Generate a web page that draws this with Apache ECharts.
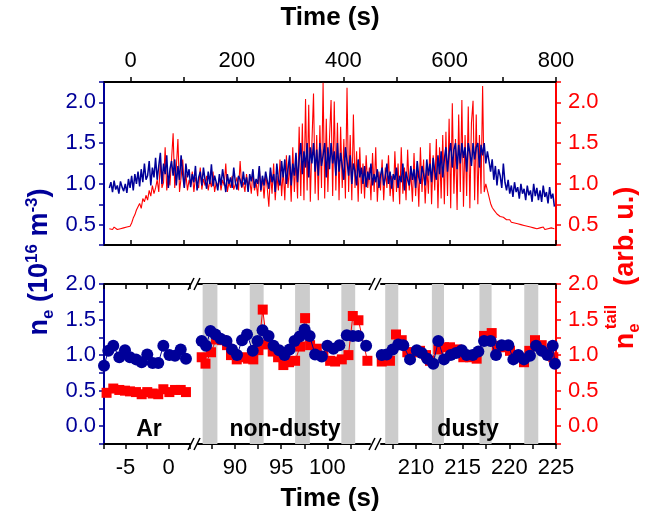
<!DOCTYPE html>
<html><head><meta charset="utf-8">
<script src="https://cdn.jsdelivr.net/npm/echarts@6/dist/echarts.min.js"></script>
<style>html,body{margin:0;padding:0;background:#fff}#c{width:651px;height:518px}</style>
</head><body><div id="c"></div>
<script>
// ---------- top panel: full time trace (sampled every 3 s starting at -40 s) ----------
const topStart = -40, topStep = 3;
const topNe = [
0.95,1.02,0.90,1.04,0.93,0.98,0.88,1.03,0.96,0.91,
1.00,0.89,1.06,0.95,1.10,0.92,1.12,1.00,1.15,0.97,
1.18,1.02,1.25,1.05,1.10,1.28,0.98,1.20,1.08,1.32,
1.05,1.22,1.38,1.00,1.25,1.12,1.35,0.95,1.18,1.28,
1.10,1.30,0.98,1.22,1.05,1.35,1.12,0.95,1.25,1.08,
1.18,0.96,1.12,1.02,1.22,0.92,1.08,1.15,0.98,1.20,
1.05,0.94,1.15,1.00,1.24,0.97,1.10,1.02,0.92,1.12,
0.98,1.18,1.04,0.90,1.12,1.00,1.08,0.95,1.20,1.02,
0.93,1.10,1.05,0.96,1.15,0.99,1.08,0.90,1.12,1.03,
1.18,0.95,1.06,1.00,1.22,0.92,1.10,0.98,1.15,1.04,
0.94,1.20,1.02,1.12,0.90,1.25,1.05,0.98,1.28,1.08,
1.30,1.00,1.18,1.35,0.98,1.25,1.10,1.38,1.02,1.30,
1.50,1.12,1.40,1.20,1.50,1.08,1.45,1.25,1.50,1.15,
1.42,1.10,1.50,1.22,1.35,1.50,1.08,1.45,1.18,1.50,
1.25,1.40,1.10,1.50,1.15,1.38,1.22,1.05,1.45,1.28,
1.10,1.35,1.00,1.25,1.15,0.98,1.30,1.08,1.20,1.00,
1.22,0.96,1.15,1.05,1.25,0.98,1.12,1.02,1.18,0.95,
1.10,1.20,0.98,1.08,1.25,1.00,1.15,0.94,1.12,1.05,
1.20,0.95,1.10,1.02,1.25,0.92,1.15,1.05,0.98,1.22,
1.05,1.18,0.95,1.28,1.08,1.00,1.22,1.12,0.98,1.30,
1.10,1.25,1.02,1.32,1.15,1.05,1.35,1.12,1.40,1.08,
1.30,1.45,1.15,1.38,1.50,1.20,1.42,1.50,1.18,1.48,
1.25,1.50,1.32,1.45,1.15,1.50,1.38,1.22,1.50,1.30,
1.45,1.50,1.20,1.48,1.35,1.50,1.25,1.40,1.28,1.15,
1.30,1.05,1.22,0.98,1.18,1.10,0.95,1.25,1.02,0.92,
1.05,0.88,0.98,0.84,1.02,0.90,0.96,0.82,1.00,0.88,
0.94,0.80,0.98,0.86,0.92,0.78,1.00,0.85,0.95,0.80,
0.92,0.78,0.98,0.84,0.90,0.76,0.96,0.82,0.88,0.72];
const topTail = [
0.45,0.46,0.44,0.47,0.45,0.44,0.46,0.45,0.43,0.46,
0.44,0.47,0.45,0.48,0.52,0.58,0.62,0.68,0.72,0.76,
0.70,0.82,0.78,0.86,0.80,0.92,0.85,0.98,0.88,0.95,
1.05,0.90,1.28,0.95,1.02,1.45,0.92,1.10,0.98,1.30,
1.62,0.95,1.20,1.55,0.90,1.08,1.30,0.96,1.12,0.92,
1.05,0.98,1.15,0.90,1.08,1.00,0.95,1.20,0.93,1.06,
0.98,1.10,0.92,1.04,0.96,1.15,0.90,1.02,0.97,1.08,
0.92,1.05,0.98,1.25,0.90,1.02,0.95,1.10,0.93,1.00,
1.08,0.92,1.28,0.95,1.02,0.90,1.12,0.96,1.05,0.88,
1.15,0.92,1.02,0.85,1.20,0.90,1.08,0.82,1.12,0.95,
0.72,1.15,0.88,1.25,0.80,1.10,0.92,1.30,0.85,1.18,
0.80,1.35,0.95,1.25,0.78,1.45,0.90,1.30,0.82,1.70,
0.85,1.74,0.80,2.04,0.92,1.97,0.78,1.50,2.11,0.88,
1.60,0.80,1.72,0.95,2.24,0.82,1.80,0.90,1.55,2.03,
0.85,2.01,0.92,1.75,0.80,1.70,0.95,1.55,0.82,2.18,
0.90,1.60,0.80,1.85,0.95,1.40,0.78,1.45,0.88,1.25,
0.82,1.35,0.95,1.20,0.80,1.38,0.90,1.45,0.78,1.15,
0.92,1.30,0.80,1.20,0.95,1.35,0.85,1.10,0.78,1.40,
0.90,1.25,0.75,1.45,0.88,1.20,0.80,1.42,0.92,1.15,
0.78,1.38,0.85,1.25,0.72,1.45,0.90,1.30,0.76,1.20,
0.88,1.50,0.75,1.35,0.92,1.55,0.70,1.45,0.82,1.60,
0.75,1.64,0.85,1.80,0.70,1.99,0.88,1.55,0.68,1.85,
0.90,2.03,0.72,1.60,0.85,1.95,0.70,1.75,2.02,0.80,
1.85,0.75,1.60,0.88,2.20,0.90,1.00,0.92,0.84,0.76,
0.71,0.68,0.66,0.63,0.61,0.60,0.58,0.59,0.57,0.56,
0.55,0.56,0.53,0.54,0.52,0.53,0.51,0.52,0.50,0.51,
0.49,0.50,0.48,0.49,0.47,0.48,0.46,0.47,0.45,0.47,
0.46,0.45,0.47,0.44,0.46,0.45,0.43,0.46,0.44,0.45];

// ---------- bottom panel: zoomed windows ----------
const arT    = [-7.50,-7.00,-6.42,-5.72,-5.06,-4.48,-3.78,-3.12,-2.47,-1.84,-1.19,-0.60,0.10,0.76,1.42,2.03];
const arNe   = [0.85,1.06,1.13,0.97,1.07,0.97,0.94,0.90,1.01,0.89,0.89,1.13,1.00,0.99,1.08,0.95];
const arTailT= [-7.20,-6.42,-5.72,-5.06,-4.48,-3.78,-3.12,-2.47,-1.84,-1.19,-0.60,0.10,0.76,1.42,2.03];
const arTail = [0.47,0.53,0.51,0.50,0.49,0.48,0.45,0.48,0.46,0.45,0.52,0.48,0.51,0.51,0.48];

const ndT    = [86.40,86.87,87.35,87.89,88.44,89.08,89.68,90.22,90.76,91.30,91.92,92.44,92.98,93.63,94.17,94.77,95.36,95.90,96.44,96.98,97.53,98.07,98.66,99.39,99.99,100.64,101.29,102.09,102.74,103.35,104.18];
const ndNe   = [1.20,1.13,1.34,1.29,1.23,1.20,1.08,1.00,1.21,1.29,1.06,1.20,1.35,1.27,1.13,1.07,1.00,1.08,1.20,1.26,1.36,1.27,1.01,0.98,1.13,1.09,1.14,1.28,1.27,1.27,1.13];
const ndTailT= [86.40,86.81,87.41,87.95,88.60,89.14,89.57,90.19,90.84,91.41,91.98,92.53,93.00,93.47,94.08,94.66,95.23,95.85,96.50,97.04,97.58,98.12,98.85,99.56,100.29,100.83,101.55,102.27,102.74,103.35,104.32];
const ndTail = [0.97,0.88,1.04,1.22,1.21,1.14,1.00,0.94,0.97,0.95,0.94,1.07,1.64,1.15,1.05,0.97,0.86,0.90,0.92,1.12,1.52,1.14,1.09,0.99,0.92,0.91,0.94,1.00,1.55,1.49,0.92];

const dT     = [206.33,206.86,207.50,208.10,208.64,209.36,210.08,210.61,211.21,211.85,212.39,213.00,213.72,214.29,214.90,215.43,216.08,216.68,217.29,218.00,218.57,219.18,219.89,220.43,220.96,221.57,222.21,222.86,223.47,224.07,224.65,224.89];
const dNe    = [1.00,1.01,1.08,1.15,1.14,0.94,1.07,1.03,0.95,0.88,1.20,0.94,1.00,1.03,1.07,1.00,1.00,1.05,1.20,1.20,1.00,1.14,1.14,0.94,1.00,0.94,0.99,1.13,1.06,1.00,1.13,0.88];
const dTailT = [206.33,207.21,207.86,208.47,209.07,209.71,210.43,211.07,211.50,212.39,213.00,213.64,214.36,215.07,215.79,216.50,217.29,218.11,218.65,219.35,220.07,220.79,221.57,222.14,222.75,223.47,224.18,224.71];
const dTail  = [0.91,0.92,1.29,1.21,1.04,1.04,1.06,1.00,0.92,1.08,1.11,1.11,1.08,0.97,0.97,0.95,1.27,1.31,1.13,1.11,1.06,0.97,0.90,1.06,1.21,1.14,1.04,0.97];

// shaded pulse intervals (s)
const ndBands = [[86.5,88.1],[91.6,93.1],[96.5,98.1],[101.5,103.0]];
const dBands  = [[206.7,208.1],[211.7,213.0],[216.8,218.1],[221.6,223.1]];

// tick values
const topXTicks  = [0,100,200,300,400,500,600,700,800];
const topXLabels = [0,200,400,600,800];
const arTicks  = [-7.5,-5,-2.5,0,2.5];      const arLabels = [-5,0];
const ndTicks  = [87.5,90,92.5,95,97.5,100,102.5]; const ndLabels = [90,95,100];
const dTicks   = [207.5,210,212.5,215,217.5,220,222.5,225]; const dLabels = [210,215,220,225];

// ---------- styling ----------
const BLUE = '#000099', RED = '#ff0000', FONT = 'Liberation Sans, Arial, sans-serif';
const zip = (a,b) => a.map((v,i)=>[v,b[i]]);
const topTimes = topNe.map((_,i)=>topStart + i*topStep);
const halfFmt = v => Math.abs(v*2 - Math.round(v*2)) < 1e-6 ? v.toFixed(1) : '';

const chart = echarts.init(document.getElementById('c'), null, {renderer:'canvas'});

const G = [
  {left:104, top:82, width:452, height:163},   // top
  {left:104, top:284, width:86, height:160},   // Ar
  {left:198, top:284, width:172, height:160},  // non-dusty
  {left:381, top:284, width:175, height:160}   // dusty
];
const blackLine = {show:true, onZero:false, lineStyle:{color:'#000', width:2}};
function xPair(gi, min, max, ticks, labels, topLabels){
  const lab = {show:true, customValues: labels, color:'#000', fontSize:22, fontFamily:FONT, margin: topLabels?10:13};
  return [
    {gridIndex:gi, type:'value', position: topLabels?'top':'bottom', min, max,
     axisLine:blackLine, splitLine:{show:false},
     axisTick:{show:true, customValues:ticks, inside:false, length:5, lineStyle:{color:'#000', width:1.5}},
     axisLabel: lab},
    {gridIndex:gi, type:'value', position: topLabels?'bottom':'top', min, max,
     axisLine:blackLine, splitLine:{show:false},
     axisTick:{show:true, customValues:ticks, inside:true, length:5, lineStyle:{color:'#000', width:1.5}},
     axisLabel:{show:false}}
  ];
}
const xAxes = [].concat(
  xPair(0, -50, 800, topXTicks, topXLabels, true),
  xPair(1, -7.5, 2.5, arTicks, arLabels, false),
  xPair(2, 86, 104.6, ndTicks, ndLabels, false),
  xPair(3, 206.25, 225, dTicks, dLabels, false)
);
function yAx(gi, pos, color, min, max, show){
  return {gridIndex:gi, type:'value', position:pos, min, max, interval:0.25, show:show,
    axisLine:{show:true, onZero:false, lineStyle:{color, width:2}}, splitLine:{show:false},
    axisTick:{show:true, inside:false, length:5, lineStyle:{color, width:1.5}},
    axisLabel:{show:true, formatter:halfFmt, color, fontSize:22, fontFamily:FONT, margin: pos==='left'?8:12}};
}
const yAxes = [
  yAx(0,'left',BLUE,0.25,2.25,true),     // 0 top left
  yAx(0,'right',RED,0.25,2.25,true),     // 1 top right
  yAx(1,'left',BLUE,-0.25,2.0,true),     // 2 Ar
  yAx(2,'left',BLUE,-0.25,2.0,false),    // 3 non-dusty
  yAx(3,'right',RED,-0.25,2.0,true)      // 4 dusty
];

function bands(arr){
  return {silent:true, itemStyle:{color:'#cccccc'}, data: arr.map(b=>[{xAxis:b[0]},{xAxis:b[1]}])};
}
function pts(name, xi, yi, t, v, color, sym, size, mark){
  const s = {name, type:'line', xAxisIndex:xi, yAxisIndex:yi, data:zip(t,v),
    symbol:sym, symbolSize:size, showSymbol:true, lineStyle:{color, width:1},
    itemStyle:{color, borderWidth:0}, animation:false, z: sym==='circle'?4:3};
  if (mark) s.markArea = mark;
  return s;
}
const series = [
  {name:'tail', type:'line', xAxisIndex:0, yAxisIndex:1, data:zip(topTimes, topTail), showSymbol:false,
   lineStyle:{color:RED, width:1.1}, itemStyle:{color:RED}, animation:false, z:2},
  {name:'ne', type:'line', xAxisIndex:0, yAxisIndex:0, data:zip(topTimes, topNe), showSymbol:false,
   lineStyle:{color:BLUE, width:1.5}, itemStyle:{color:BLUE}, animation:false, z:3},
  pts('arTail', 2, 2, arTailT, arTail, RED, 'rect', 10),
  pts('arNe',   2, 2, arT, arNe, BLUE, 'circle', 12),
  pts('ndTail', 4, 3, ndTailT, ndTail, RED, 'rect', 10, bands(ndBands)),
  pts('ndNe',   4, 3, ndT, ndNe, BLUE, 'circle', 12),
  pts('dTail',  6, 4, dTailT, dTail, RED, 'rect', 10, bands(dBands)),
  pts('dNe',    6, 4, dT, dNe, BLUE, 'circle', 12)
];

const bold = (t,x,y,size,color) => ({type:'text', x, y, z:100,
  style:{text:t, fill:color||'#000', font:'bold '+size+'px '+FONT, align:'center', verticalAlign:'middle'}});
function slash(x,y){ return {type:'line', z:100, shape:{x1:x-3, y1:y+6, x2:x+3, y2:y-6}, style:{stroke:'#000', lineWidth:1.5}}; }

const graphic = [
  bold('Time (s)', 330, 18, 26),
  bold('Time (s)', 330, 499, 26),
  bold('Ar', 149, 430, 23),
  bold('non-dusty', 285, 430, 23),
  bold('dusty', 468, 430, 23),
  slash(191,284), slash(197,284), slash(191,444), slash(197,444),
  slash(372,284), slash(378,284), slash(372,444), slash(378,444),
  {type:'text', x:40, y:262, z:100, rotation:Math.PI/2,
   style:{text:'{a|n}{b|e}{a| (10}{c|16}{a| m}{c|-3}{a|)}', align:'center', verticalAlign:'middle', fill:BLUE,
     rich:{a:{fontSize:27, fontWeight:'bold', fontFamily:FONT, fill:BLUE, lineHeight:33, verticalAlign:'middle'},
           b:{fontSize:17, fontWeight:'bold', fontFamily:FONT, fill:BLUE, lineHeight:33, verticalAlign:'bottom'},
           c:{fontSize:17, fontWeight:'bold', fontFamily:FONT, fill:BLUE, lineHeight:33, verticalAlign:'top'}}}},
  {type:'text', x:626, y:268, z:100, rotation:Math.PI/2,
   style:{text:'{a|n}{b|e}{a|     (arb. u.)}', align:'center', verticalAlign:'middle', fill:RED,
     rich:{a:{fontSize:27, fontWeight:'bold', fontFamily:FONT, fill:RED, lineHeight:33, verticalAlign:'middle'},
           b:{fontSize:17, fontWeight:'bold', fontFamily:FONT, fill:RED, lineHeight:33, verticalAlign:'bottom'}}}},
  {type:'text', x:611, y:317, z:100, rotation:Math.PI/2,
   style:{text:'tail', fill:RED, font:'bold 17px '+FONT, align:'center', verticalAlign:'middle'}}
];

chart.setOption({
  animation:false, backgroundColor:'#fff',
  grid: G.map(g=>Object.assign({containLabel:false}, g)),
  xAxis: xAxes, yAxis: yAxes, series, graphic
});
</script></body></html>
